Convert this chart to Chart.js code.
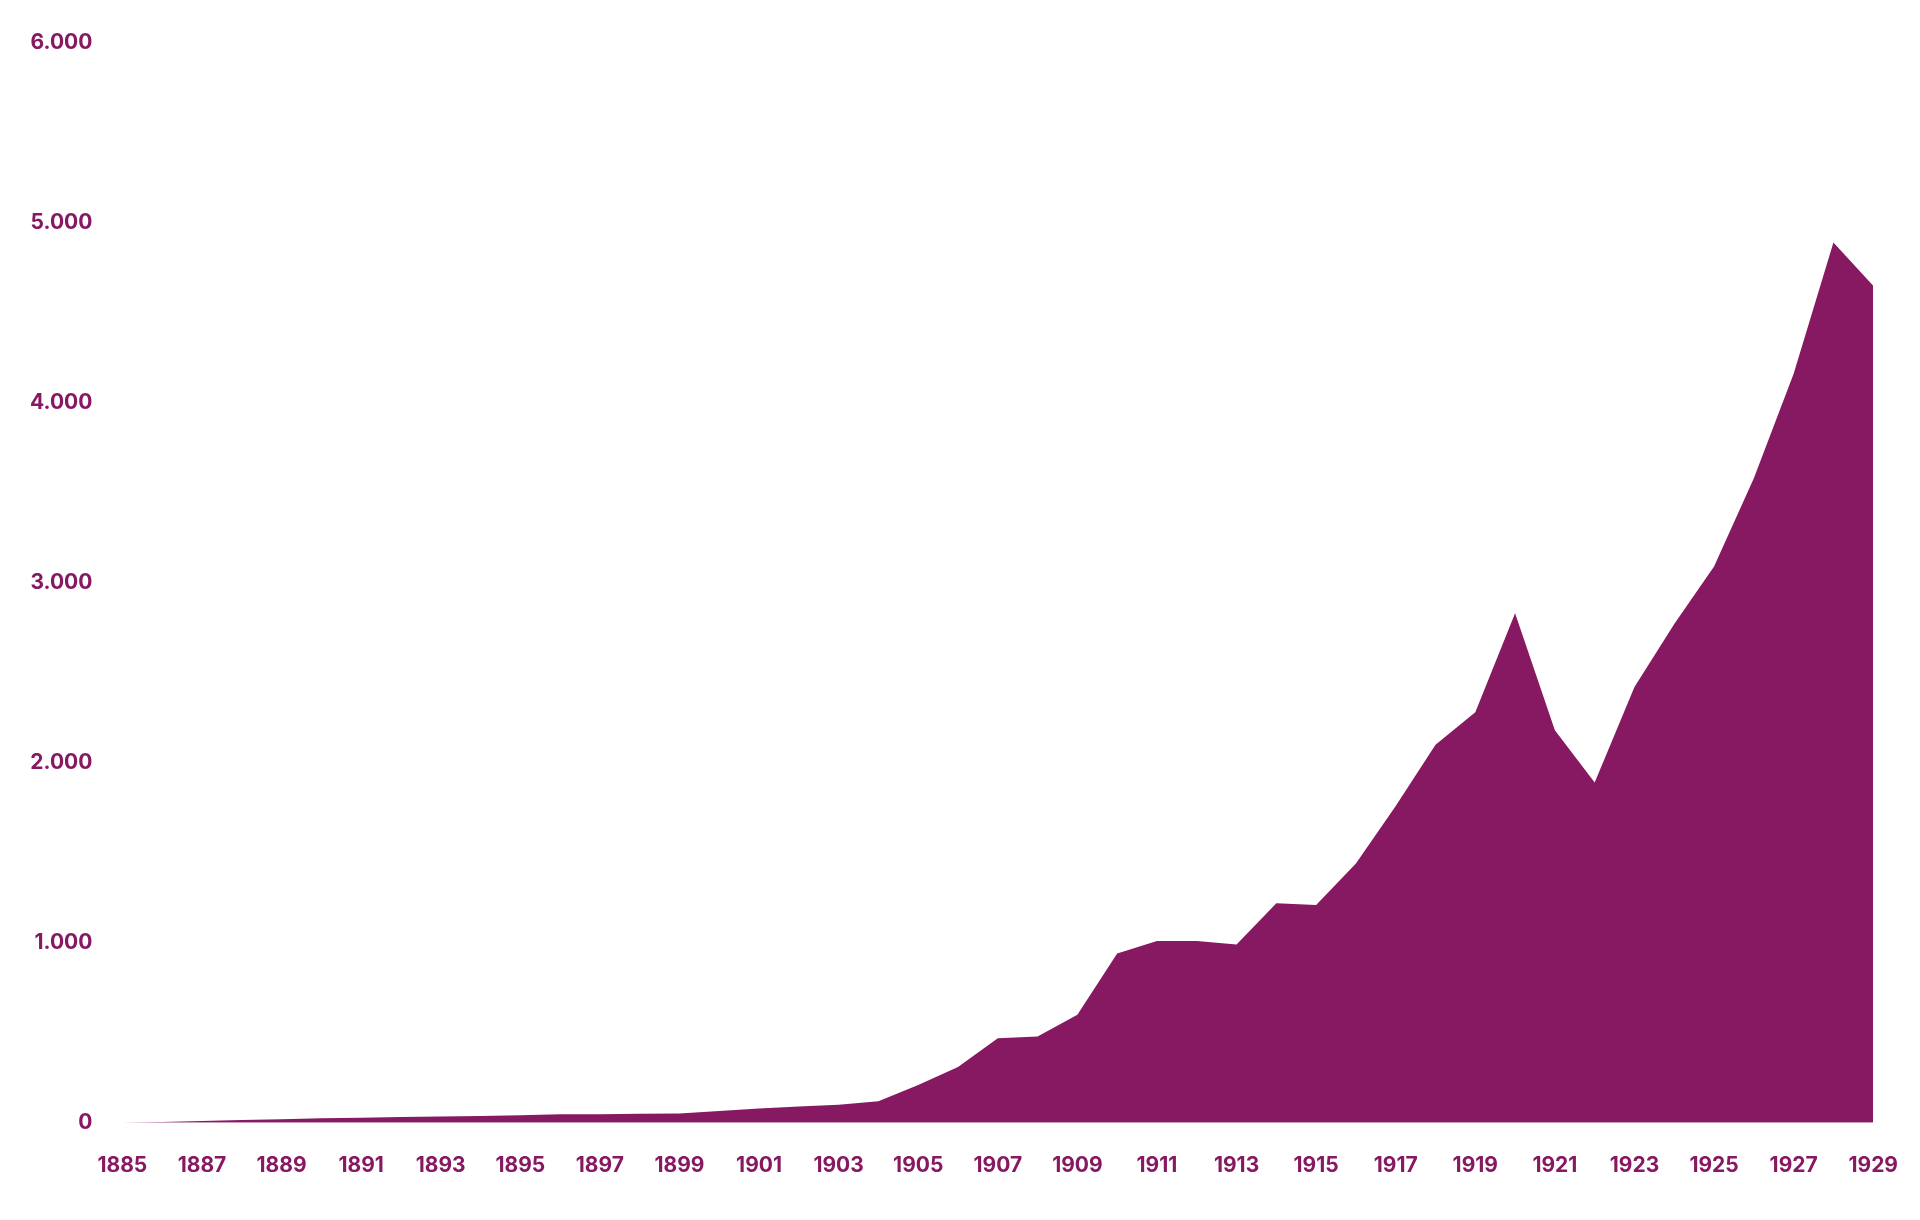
<!DOCTYPE html>
<html><head><meta charset="utf-8">
<script src="https://cdn.jsdelivr.net/npm/chart.js@4"></script>
<style>html,body{margin:0;background:#fff}#w{width:1920px;height:1220px}</style>
</head><body><div id="w"><canvas id="c"></canvas></div>
<script>
const years = [];
for (let y = 1885; y <= 1929; y++) years.push(String(y));
const values = [0,5,10,15,20,25,28,32,35,38,42,48,48,50,52,65,80,90,100,120,210,310,470,480,600,940,1010,1010,990,1220,1210,1440,1760,2100,2280,2830,2180,1890,2420,2770,3090,3580,4160,4890,4650];
const yTicks = [0,1000,2000,3000,4000,5000,6000];
const purple = '#871862';
new Chart(document.getElementById('c'), {
  type: 'line',
  data: { labels: years, datasets: [{ data: values, fill: 'origin', backgroundColor: purple, borderWidth: 0, pointRadius: 0, tension: 0 }] },
  options: {
    responsive: true, maintainAspectRatio: false, animation: false,
    layout: { padding: { left: 0, right: 20, top: 14, bottom: 20 } },
    plugins: { legend: { display: false }, tooltip: { enabled: false } },
    scales: {
      x: {
        grid: { display: false }, border: { display: false },
        ticks: { color: purple, font: { family: 'Inter', size: 21, weight: 'bold' }, maxRotation: 0, autoSkip: false, padding: 22,
          callback: (v, i) => i % 2 === 0 ? years[i] : '' }
      },
      y: {
        min: 0, max: 6000, z: 1,
        afterBuildTicks: s => { s.ticks = yTicks.map(v => ({ value: v })); },
        grid: { color: 'rgba(255,255,255,0.45)', lineWidth: 2, drawTicks: false }, border: { display: false },
        ticks: { color: purple, font: { family: 'Inter', size: 21, weight: 'bold' }, padding: 30,
          callback: v => v.toLocaleString('de-DE') }
      }
    }
  }
});
</script></body></html>
